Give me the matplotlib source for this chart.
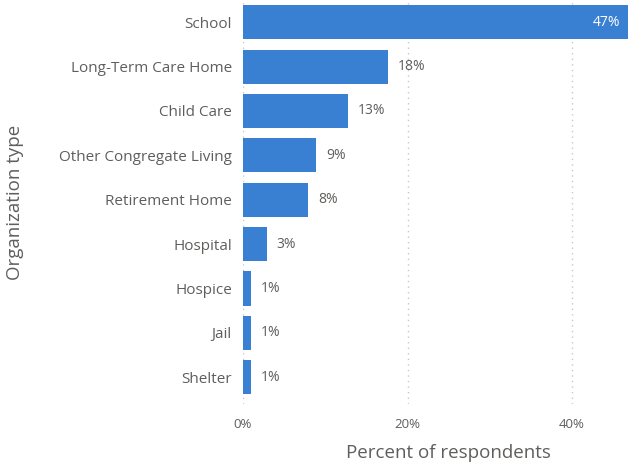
import matplotlib
matplotlib.use("Agg")
import matplotlib.pyplot as plt

# data
categories = ['School', 'Long-Term Care Home', 'Child Care', 'Other Congregate Living',
              'Retirement Home', 'Hospital', 'Hospice', 'Jail', 'Shelter']
percents = [47.0, 17.6, 12.8, 8.9, 7.9, 2.9, 1.0, 1.0, 1.0]
labels = ['47%', '18%', '13%', '9%', '8%', '3%', '1%', '1%', '1%']
xticks = [0, 20, 40]
xtick_labels = ['0%', '20%', '40%']

plt.rcParams['font.family'] = ['Open Sans', 'DejaVu Sans']
bar_color = '#3A80D2'
text_color = '#605E5C'

fig = plt.figure(figsize=(6.28, 4.62), dpi=100)
ax = fig.add_axes([243/628, 58/462, 385/628, 404/462])

y = list(range(len(categories)))
ax.barh(y, percents, height=0.77, color=bar_color, zorder=2)

for yi, v, lab in zip(y, percents, labels):
    if v > 40:
        ax.text(v - 1.2, yi, lab, ha='right', va='center', color='white', fontsize=10)
    else:
        ax.text(v + 1.2, yi, lab, ha='left', va='center', color=text_color, fontsize=10)

ax.set_xlim(0, 46.8)
ax.set_ylim(8.6, -0.5)
ax.set_yticks(y)
ax.set_yticklabels(categories, fontsize=11, color=text_color)
ax.set_xticks(xticks)
ax.set_xticklabels(xtick_labels, fontsize=9.5, color=text_color)
ax.tick_params(axis='both', length=0)
ax.tick_params(axis='y', pad=8)
ax.tick_params(axis='x', pad=10)

ax.grid(axis='x', linestyle=(0, (1, 3)), color='#C8C8C8', linewidth=1, zorder=0)
for s in ax.spines.values():
    s.set_visible(False)

ax.set_xlabel('Percent of respondents', fontsize=13.5, color=text_color)
ax.xaxis.set_label_coords((448 - 243) / 385, -40 / 404)
ax.set_ylabel('Organization type', fontsize=13.5, color=text_color)
ax.yaxis.set_label_coords((24 - 243) / 385, 0.5)

fig.savefig('out.png', dpi=100)
